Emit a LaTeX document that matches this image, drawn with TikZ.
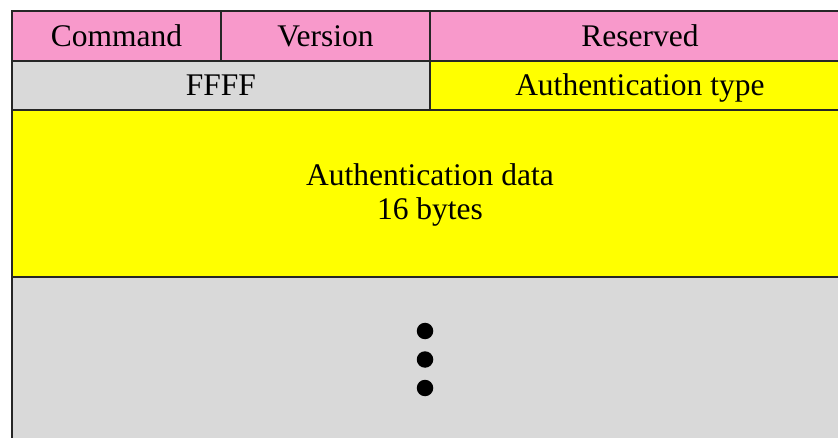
\documentclass[tikz,border=0pt]{standalone}
\usepackage{fontspec}
\setmainfont{Liberation Serif}
\definecolor{hdrpink}{RGB}{248,153,203}
\definecolor{cellgray}{RGB}{217,217,217}
\definecolor{cellyellow}{RGB}{255,255,0}
\begin{document}
\begin{tikzpicture}[x=1pt,y=-1pt,
  cell/.style={draw=black!85, line width=1.8pt, anchor=north west, inner sep=0pt,
    font=\fontsize{31.5}{34}\selectfont, align=center, text height=21pt, text depth=0pt},
  celltext/.style={inner sep=0pt, font=\fontsize{31.5}{34}\selectfont, align=center},
  dotmark/.style={circle, fill=black, minimum size=16.5pt, inner sep=0pt}]
\useasboundingbox (0,0) rectangle (838,438);
\clip (0,0) rectangle (838,438);
% header row
\node[cell, fill=hdrpink, minimum width=209pt, minimum height=50pt] (cmd) at (11,10) {Command};
\node[cell, fill=hdrpink, minimum width=209pt, minimum height=50pt] (ver) at (220,10) {Version};
\node[cell, fill=hdrpink, minimum width=420pt, minimum height=50pt] (res) at (429,10) {Reserved};
% second row
\node[cell, fill=cellgray, minimum width=418pt, minimum height=49pt] (ffff) at (11,60) {FFFF};
\node[cell, fill=cellyellow, minimum width=420pt, minimum height=49pt] (atype) at (429,60) {Authentication type};
% authentication data block (label baseline is that of its last line)
\node[cell, fill=cellyellow, minimum width=838pt, minimum height=167pt] (adata) at (11,109) {};
\node[celltext, anchor=base] (adatatext) at (430,220) {Authentication data\\16 bytes};
% remaining entries
\node[cell, fill=cellgray, minimum width=838pt, minimum height=190pt] (rest) at (11,276) {};
\node[dotmark] (d1) at (425,331) {};
\node[dotmark] (d2) at (425,359.5) {};
\node[dotmark] (d3) at (425,388) {};
\end{tikzpicture}
\end{document}
